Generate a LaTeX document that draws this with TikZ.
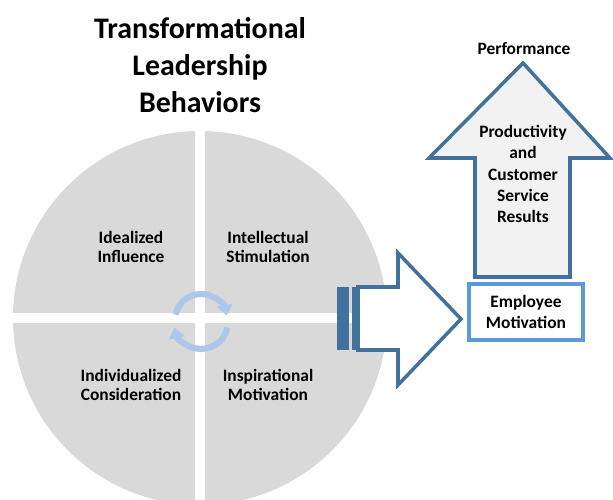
\documentclass[tikz,border=0pt]{standalone}
\usepackage{fontspec}
\setmainfont{Carlito}
\usetikzlibrary{arrows.meta}

\definecolor{wheelgray}{RGB}{217,217,217}
\definecolor{arrowblue}{RGB}{65,113,156}
\definecolor{boxblue}{RGB}{91,155,213}
\definecolor{cycleblue}{RGB}{172,199,234}
\definecolor{headfill}{RGB}{242,242,242}

\tikzset{
	label/.style={align=center, font=\bfseries\fontsize{9.9}{10.5}\selectfont},
	arrowlabel/.style={align=center, font=\bfseries\fontsize{9.9}{12}\selectfont},
	blockarrow/.style={draw=arrowblue, line width=2pt, line join=miter},
	cyclearrow/.style={cycleblue, line width=3.5pt, -{Triangle[length=6pt,width=9pt]}}
}

\begin{document}
\begin{tikzpicture}[x=0.02cm,y=-0.02cm]
				\useasboundingbox (0,0) rectangle (613,500);
				
				% wheel of four behaviours
				\begin{scope}
					\clip (0,0) rectangle (613,500);
					\fill[wheelgray] (200,318) circle (187);
					\fill[white] (195,120) rectangle (205,510);
					\fill[white] (0,313) rectangle (400,323);
				\end{scope}
				
				\node[font=\bfseries\fontsize{17}{21}\selectfont, align=center] (title) at (200,65) {Transformational\\Leadership\\Behaviors};
				
				\node[label] (idealized) at (131,247) {Idealized\\Influence};
				\node[label] (intellectual) at (268,247) {Intellectual\\Stimulation};
				\node[label] (individualized) at (131,385) {Individualized\\Consideration};
				\node[label] (inspirational) at (268,385) {Inspirational\\Motivation};
				
				% cycle arrows in the middle
				\draw[cyclearrow] (201,320) ++(192:26) arc (192:350:26);
				\draw[cyclearrow] (201,322) ++(12:27) arc (12:168:27);
				
				% striped arrow to the right
				\fill[arrowblue] (337,287) rectangle (349,350);
				\fill[arrowblue] (352,287) rectangle (358,350);
				\draw[blockarrow, fill=white] (358,287) -- (398,287) -- (398,253) -- (461,319) -- (398,385) -- (398,350) -- (358,350) -- cycle;
				
				% performance arrow
				\draw[blockarrow, fill=headfill] (523,63) -- (610,158) -- (570,158) -- (570,277) -- (475,277) -- (475,158) -- (429,158) -- cycle;
				\node[label] (performance) at (524,49) {Performance};
				\node[arrowlabel] (results) at (523,174) {Productivity\\and\\Customer\\Service\\Results};
				
				\draw[draw=boxblue, line width=2pt, fill=white] (469,284) rectangle (583,340);
				\node[arrowlabel] (motivation) at (526,312) {Employee\\Motivation};
			\end{tikzpicture}
\end{document}
